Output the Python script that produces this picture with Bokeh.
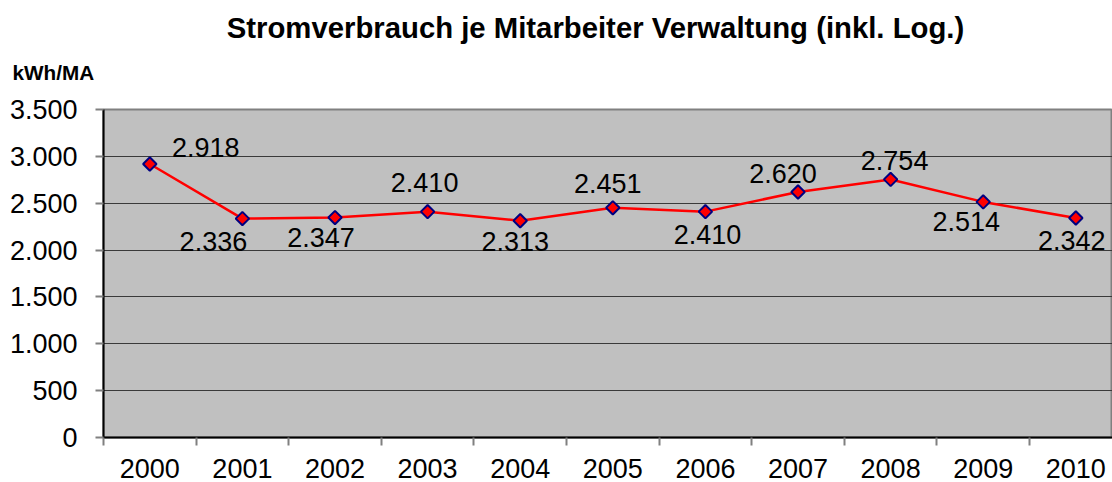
import math
from bokeh.plotting import figure
from bokeh.layouts import column
from bokeh.models import Range1d, FixedTicker
from bokeh.core.properties import value
from bokeh.embed import file_html
from bokeh.resources import INLINE

# ---- data ----
years = ["2000", "2001", "2002", "2003", "2004", "2005", "2006", "2007", "2008", "2009", "2010"]
consumption = [2918, 2336, 2347, 2410, 2313, 2451, 2410, 2620, 2754, 2514, 2342]
y_ticks = [0, 500, 1000, 1500, 2000, 2500, 3000, 3500]
y_tick_labels = ["0", "500", "1.000", "1.500", "2.000", "2.500", "3.000", "3.500"]
title_text = "Stromverbrauch je Mitarbeiter Verwaltung (inkl. Log.)"
unit_text = "kWh/MA"

# label placement offsets in screen pixels (style only)
label_dx = [56, -29, -14, -3, -5, -5, 2, -15, 4, -17, -4]
label_dy = [-17, 23, 20, -29, 21, -24, 23, -18, -19, 20, 22]

FONT = "Liberation Sans"
W = 1112
HEAD_H = 94

xs = list(range(len(years)))
labels = [f"{v:,}".replace(",", ".") for v in consumption]

# ---- header (title + unit) as a blank pixel-space figure ----
head = figure(width=W, height=HEAD_H, x_range=Range1d(0, W), y_range=Range1d(HEAD_H, 0),
              x_axis_type=None, y_axis_type=None, output_backend="svg", toolbar_location=None,
              min_border=0, outline_line_color=None, background_fill_color="white",
              border_fill_color="white")
head.frame_align = False
head.grid.visible = False
head.text(x=[595], y=[27], text=[title_text], text_align="center", text_baseline="alphabetic",
          text_font=value(FONT), text_font_size="29.3px", text_font_style="bold",
          text_color="black")
head.text(x=[12], y=[72], text=[unit_text], text_align="left", text_baseline="alphabetic",
          text_font=value(FONT), text_font_size="20.7px", text_font_style="bold",
          text_color="black")

# ---- main chart ----
p = figure(width=W, height=482 - HEAD_H,
           x_range=Range1d(-0.5, 10.396), y_range=Range1d(0, 3500),
           output_backend="svg", toolbar_location=None,
           min_border_left=103, min_border_right=0, min_border_top=15, min_border_bottom=45,
           background_fill_color="#C0C0C0", border_fill_color="white",
           outline_line_color="#808080", outline_line_width=2)
p.frame_align = False

# grid
p.xgrid.visible = False
p.ygrid.ticker = FixedTicker(ticks=y_ticks)
p.ygrid.grid_line_color = "#3a3a3a"
p.ygrid.grid_line_width = 1

# y axis
ya = p.yaxis[0]
ya.ticker = FixedTicker(ticks=y_ticks)
ya.major_label_overrides = {t: l for t, l in zip(y_ticks, y_tick_labels)}
ya.major_tick_out = 8
ya.major_tick_in = 0
ya.minor_tick_out = 0
ya.minor_tick_in = 0
ya.major_tick_line_color = "#808080"
ya.major_tick_line_width = 2
ya.axis_line_color = "black"
ya.axis_line_width = 2
ya.major_label_standoff = 18
ya.major_label_text_font = FONT
ya.major_label_text_font_size = "27px"
ya.major_label_text_color = "black"

# x axis
xa = p.xaxis[0]
xa.ticker = FixedTicker(ticks=xs, minor_ticks=[i - 0.5 for i in range(len(years) + 1)])
xa.major_label_overrides = {i: y for i, y in zip(xs, years)}
xa.major_tick_out = 0
xa.major_tick_in = 0
xa.minor_tick_out = 8
xa.minor_tick_in = 0
xa.minor_tick_line_color = "#808080"
xa.minor_tick_line_width = 2
xa.axis_line_color = "black"
xa.axis_line_width = 2
xa.major_label_standoff = 13
xa.major_label_text_font = FONT
xa.major_label_text_font_size = "27px"
xa.major_label_text_color = "black"

# series
p.line(xs, consumption, line_color="red", line_width=2.5)
p.scatter(xs, consumption, marker="square", angle=math.pi / 4, size=9.5,
          fill_color="red", line_color="#000080", line_width=2)
p.text(x=xs, y=consumption, text=labels, x_offset=label_dx, y_offset=label_dy,
       text_align="center", text_baseline="alphabetic",
       text_font=value(FONT), text_font_size="27px", text_color="black")

layout = column(head, p, spacing=0)
open("out.html", "w").write(file_html(layout, INLINE))
